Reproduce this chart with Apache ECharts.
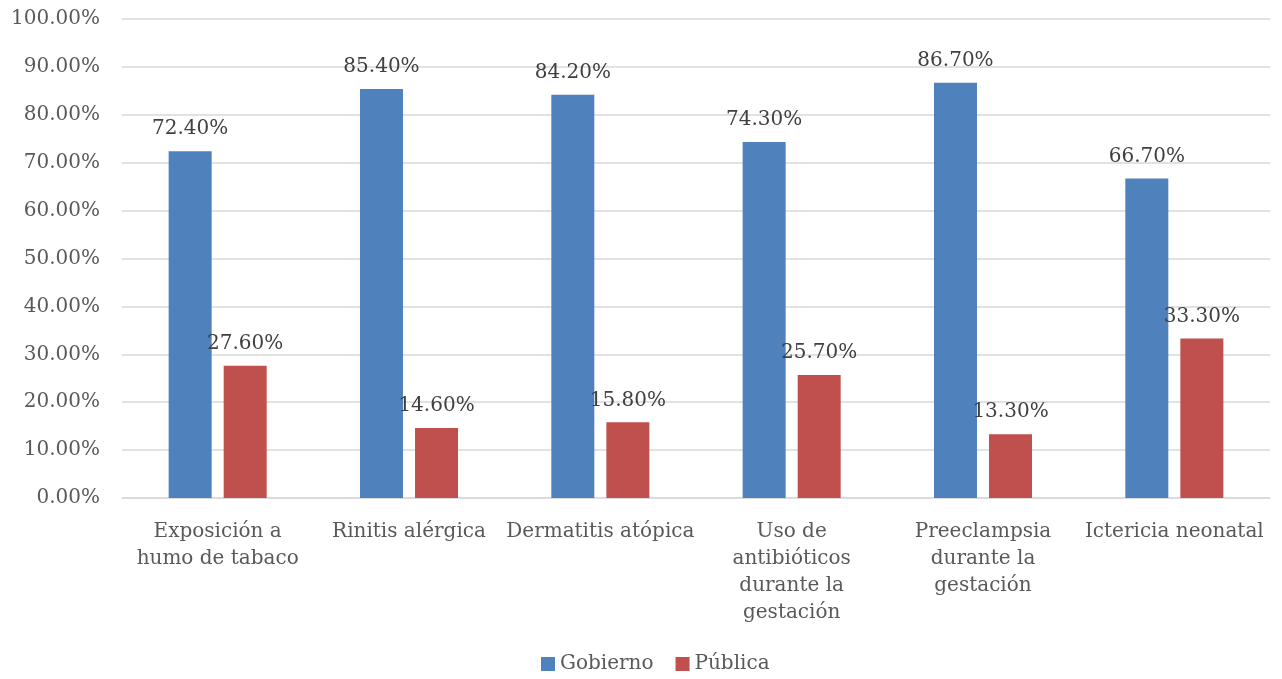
<!DOCTYPE html>
<html><head><meta charset="utf-8">
<script src="https://cdn.jsdelivr.net/npm/echarts@6/dist/echarts.min.js"></script>
<style>html,body{margin:0;padding:0;background:#fff}#c{width:1282px;height:679px}</style>
</head><body><div id="c"></div>
<script>
const categories = ["Exposición a\nhumo de tabaco","Rinitis alérgica","Dermatitis atópica","Uso de\nantibióticos\ndurante la\ngestación","Preeclampsia\ndurante la\ngestación","Ictericia neonatal"];
const gobierno = [72.4, 85.4, 84.2, 74.3, 86.7, 66.7];
const publica = [27.6, 14.6, 15.8, 25.7, 13.3, 33.3];
const FONT = "DejaVu Serif";
const chart = echarts.init(document.getElementById('c'));
const labelStyle = {show:true, position:'top', distance:12, color:'#404040', fontFamily:FONT, fontSize:20, formatter:p=>p.value.toFixed(2)+'%'};
chart.setOption({
  animation:false,
  grid:{left:122, right:12, top:19, bottom:181},
  legend:{bottom:0, left:536, itemWidth:14, itemHeight:14, itemGap:22, icon:'rect',
    textStyle:{color:'#595959', fontFamily:FONT, fontSize:20}},
  xAxis:{type:'category', data:categories,
    axisLine:{lineStyle:{color:'#d9d9d9', width:1.5}}, axisTick:{show:false},
    axisLabel:{color:'#595959', fontFamily:FONT, fontSize:20, lineHeight:27, margin:20, interval:0}},
  yAxis:{type:'value', min:0, max:100, interval:10,
    axisLine:{show:false}, axisTick:{show:false},
    splitLine:{lineStyle:{color:'#d9d9d9', width:1.5}},
    axisLabel:{color:'#595959', fontFamily:FONT, fontSize:20, margin:22, formatter:v=>v.toFixed(2)+'%'}},
  series:[
    {name:'Gobierno', type:'bar', data:gobierno, barWidth:43, barGap:'28%', itemStyle:{color:'#4f81bd'}, label:labelStyle},
    {name:'Pública', type:'bar', data:publica, barWidth:43, barGap:'28%', itemStyle:{color:'#c0504d'}, label:labelStyle}
  ]
});
</script></body></html>
